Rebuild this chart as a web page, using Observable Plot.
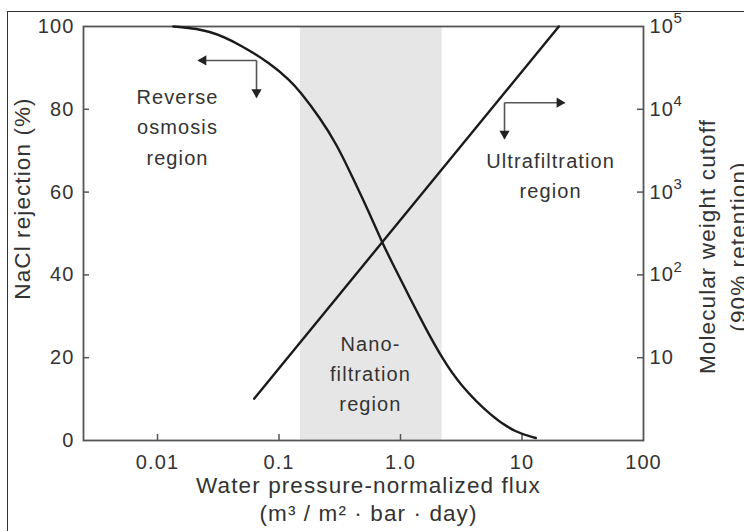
<!DOCTYPE html>
<html><head><meta charset="utf-8">
<script src="https://cdn.jsdelivr.net/npm/d3@7"></script>
<script src="https://cdn.jsdelivr.net/npm/@observablehq/plot@0.6"></script>
<style>
body{margin:0;background:#fff;}
#wrap{position:relative;width:744px;height:531px;overflow:hidden;background:#fff;}
#chart{position:absolute;left:0;top:0;}
#border{position:absolute;left:7px;top:11px;width:800px;height:600px;border-left:1px solid #333;border-top:1px solid #333;pointer-events:none;}
#chart svg text{letter-spacing:1.1px;}
</style></head><body>
<div id="wrap"><div id="chart"></div><div id="border"></div></div>
<script>
// ---- data ----
const xTicks = [0.01, 0.1, 1, 10, 100];
const xTickLabels = ["0.01", "0.1", "1.0", "10", "100"];
const yTicks = [0, 20, 40, 60, 80, 100];
const mwTicks = [10, 100, 1000, 10000, 100000];
const mwBase = ["10", "10", "10", "10", "10"];
const mwExp = ["", "2", "3", "4", "5"];
const nfBand = [0.15, 2.2];

// NaCl rejection (%) vs flux
const rejFlux = [0.0135, 0.0272, 0.0507, 0.0843, 0.123, 0.149, 0.217, 0.299, 0.404, 0.557, 0.711, 0.859, 1.19, 1.63, 2.21, 3.05, 5.68, 8.93, 13.0];
const rejPct  = [100, 99.2, 95.2, 91.1, 87.0, 84.3, 78.0, 71.5, 63.5, 54.8, 47.6, 42.8, 34.5, 26.8, 19.8, 13.6, 5.6, 1.9, 0.6];

// Molecular weight cutoff vs flux
const mwFlux   = [0.0624, 20.1];
const mwCutoff = [3.2, 100000];

// region labels
const regionText = ["Reverse\nosmosis\nregion", "Ultrafiltration\nregion", "Nano-\nfiltration\nregion"];
const regionFlux = [0.0146, 17.2, 0.566];
const regionPct  = [76.3, 64.6, 16.7];

// annotation arrows: corner -> tip
const arrowFrom = [[0.0653, 91.8], [0.0653, 91.8], [7.18, 81.6], [7.18, 81.6]];
const arrowTo   = [[0.0217, 91.8], [0.0653, 82.9], [22.4, 81.6], [7.18, 72.9]];
const arrowDir  = ["left", "down", "right", "down"];

const xLabel = ["Water pressure-normalized flux", "(m³ / m² · bar · day)"];
const yLabel = "NaCl rejection (%)";
const y2Label = ["Molecular weight cutoff", "(90% retention)"];

// ---- derived tables ----
const toPct = mw => 20 * Math.log10(mw); // right log axis 1..1e5 on same 0..100 range
const rejData = rejFlux.map((x, i) => ({x, y: rejPct[i]}));
const mwData = mwFlux.map((x, i) => ({x, y: toPct(mwCutoff[i])}));
const mwTickData = mwTicks.map((v, i) => ({y: toPct(v), base: mwBase[i], exp: mwExp[i]}));
const regions = regionText.map((t, i) => ({t, x: regionFlux[i], y: regionPct[i]}));
const arrows = arrowFrom.map((f, i) => ({x1: f[0], y1: f[1], x2: arrowTo[i][0], y2: arrowTo[i][1], dir: arrowDir[i]}));

const ink = "#333";
const axisGray = "#555";
const titleSize = 22.5;

function head(dir, rotate, dx, dy) {
  return Plot.dot(arrows.filter(d => d.dir === dir), {x: "x2", y: "y2", symbol: "triangle", r: 3.8,
    fill: "#222", stroke: "none", rotate, dx, dy});
}

const chart = Plot.plot({
  width: 744, height: 531,
  marginLeft: 83, marginRight: 101, marginTop: 26, marginBottom: 91,
  style: {fontFamily: "'Liberation Sans', Arial, Helvetica, sans-serif", fontSize: "20px", color: ink, background: "transparent"},
  x: {type: "log", domain: [0.00246, 100]},
  y: {domain: [0, 100]},
  marks: [
    Plot.rect([nfBand], {x1: d => d[0], x2: d => d[1], y1: 0, y2: 100, fill: "#e6e6e6"}),
    // inward ticks
    Plot.tickX(xTicks.slice(0, 4), {x: d => d, insetTop: 408, stroke: axisGray, strokeWidth: 1.5}),
    Plot.tickY(yTicks.slice(1, 5), {y: d => d, insetRight: 554, stroke: axisGray, strokeWidth: 1.5}),
    Plot.tickY(mwTickData.slice(0, 4), {y: "y", insetLeft: 554, stroke: axisGray, strokeWidth: 1.5}),
    // axes labels
    Plot.axisX({ticks: xTicks, tickSize: 0, tickPadding: 14, tickFormat: d => xTickLabels[xTicks.indexOf(d)], label: null, fill: ink}),
    Plot.axisY({ticks: yTicks, tickSize: 0, tickPadding: 9, label: null, fill: ink}),
    Plot.text(mwTickData, {y: "y", frameAnchor: "right", text: "base", textAnchor: "start", dx: 6, fill: ink}),
    Plot.text(mwTickData, {y: "y", frameAnchor: "right", text: "exp", textAnchor: "start", dx: 30, dy: -8, fontSize: 15, fill: ink}),
    Plot.frame({stroke: axisGray, strokeWidth: 1.8}),
    // curves
    Plot.line(rejData, {x: "x", y: "y", curve: "basis", stroke: "#1a1a1a", strokeWidth: 2.4}),
    Plot.line(mwData, {x: "x", y: "y", stroke: "#1a1a1a", strokeWidth: 2.4}),
    // arrows
    Plot.link(arrows, {x1: "x1", y1: "y1", x2: "x2", y2: "y2", stroke: axisGray, strokeWidth: 1.6}),
    head("left", -90, 5, 0),
    head("right", 90, -5, 0),
    head("down", 180, 0, -5),
    // region labels
    Plot.text(regions, {x: "x", y: "y", text: "t", lineHeight: 1.52, fill: ink}),
    // axis titles
    Plot.text([xLabel[0]], {frameAnchor: "bottom", textAnchor: "middle", dy: 52, dx: 5, fill: ink, fontSize: titleSize}),
    Plot.text([xLabel[1]], {frameAnchor: "bottom", textAnchor: "middle", dy: 80, dx: 5, fill: ink, fontSize: titleSize}),
    Plot.text([yLabel], {frameAnchor: "left", textAnchor: "middle", rotate: -90, dx: -61, dy: -35, fill: ink, fontSize: titleSize}),
    Plot.text([y2Label[0]], {frameAnchor: "right", textAnchor: "middle", rotate: -90, dx: 64, dy: 13, fill: ink, fontSize: titleSize}),
    Plot.text([y2Label[1]], {frameAnchor: "right", textAnchor: "middle", rotate: -90, dx: 95, dy: 13, fill: ink, fontSize: titleSize})
  ]
});
document.getElementById("chart").appendChild(chart);
</script>
</body></html>
